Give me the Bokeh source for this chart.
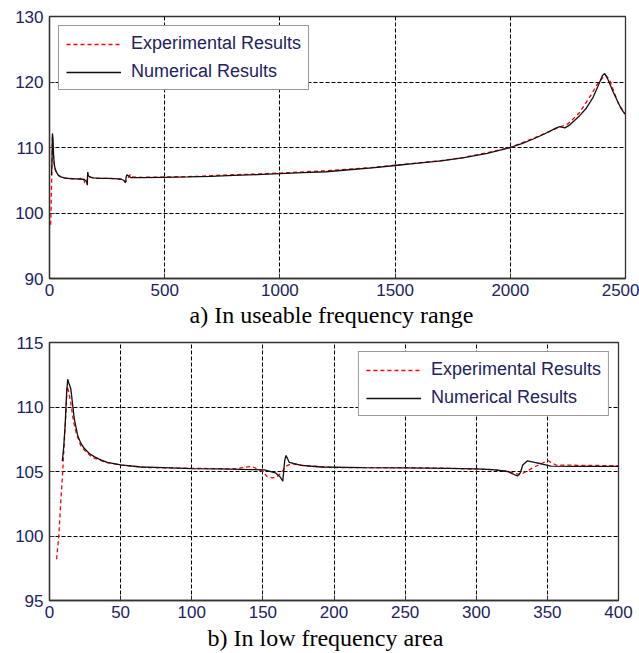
from bokeh.plotting import figure
from bokeh.layouts import column
from bokeh.models import Range1d, FixedTicker, Legend, LegendItem, Title
from bokeh.embed import file_html
from bokeh.resources import INLINE

# ---------------- data ----------------
num_f = [9, 10, 11, 12, 12.8, 13.5, 15, 17.4, 19.8, 22, 24.4, 28, 31.4, 36, 40.7, 50, 64, 80,
         100, 120, 142, 151, 158.8, 162, 164, 165.4, 166.3, 168.6, 177, 191, 220, 250, 280, 300,
         311.5, 322, 329, 331, 332.7, 336, 341, 345.5, 352.6, 370, 400, 500, 600, 700, 800, 900,
         1000, 1100, 1200, 1300, 1400, 1500, 1600, 1700, 1800, 1900, 2000, 2050, 2100, 2150, 2200,
         2215, 2237, 2260, 2302, 2330, 2360, 2380, 2400, 2410, 2425, 2445, 2461, 2480, 2495, 2500]
num_v = [105.8, 106.9, 108.6, 111.0, 112.15, 111.9, 111.4, 109.1, 107.8, 107.2, 106.8, 106.4,
         106.15, 105.9, 105.7, 105.52, 105.35, 105.3, 105.22, 105.2, 105.15, 105.12, 104.9, 104.6,
         104.25, 105.9, 106.24, 105.7, 105.47, 105.35, 105.3, 105.28, 105.25, 105.2, 105.15, 105.0,
         104.65, 104.9, 105.5, 105.83, 105.7, 105.6, 105.42, 105.4, 105.4, 105.45, 105.5, 105.6,
         105.75, 105.85, 106.0, 106.15, 106.3, 106.6, 106.9, 107.25, 107.6, 107.95, 108.45, 109.1,
         110.0, 110.6, 111.3, 112.1, 113.0, 113.2, 113.0, 113.5, 114.9, 116.0, 117.7, 119.3, 121.0,
         121.3, 120.3, 118.6, 117.4, 116.0, 115.2, 115.1]

exp_f = [5, 6.6, 8, 9.3, 10.5, 11.6, 12.3, 13.5, 15.1, 17, 19, 22, 25, 30, 40, 50, 70, 100, 130,
         142, 150, 153, 157, 160, 163, 166, 170, 180, 200, 235, 250, 280, 310, 320, 331, 340, 350.3,
         356, 400, 500, 650, 700, 800, 900, 1000, 1200, 1400, 1500, 1700, 1800, 1900, 2000, 2100,
         2200, 2250, 2300, 2350, 2380, 2400, 2415, 2430, 2450, 2470, 2490, 2500]
exp_v = [98.2, 100.1, 102.8, 105.0, 107.5, 109.6, 111.6, 111.2, 110.2, 108.8, 107.9, 107.0, 106.6,
         106.1, 105.7, 105.5, 105.3, 105.25, 105.2, 105.4, 105.0, 104.6, 104.5, 104.6, 104.9, 105.4,
         105.6, 105.45, 105.3, 105.3, 105.3, 105.25, 105.15, 105.05, 104.75, 105.3, 105.85, 105.5,
         105.45, 105.5, 105.6, 105.7, 105.85, 105.95, 106.1, 106.45, 106.95, 107.3, 108.0, 108.5,
         109.2, 110.0, 111.4, 112.9, 113.6, 115.3, 118.0, 119.8, 120.6, 121.0, 120.4, 118.5, 116.6,
         115.6, 115.2]

top_xticks = [0, 500, 1000, 1500, 2000, 2500]
top_yticks = [90, 100, 110, 120, 130]
bot_xticks = [0, 50, 100, 150, 200, 250, 300, 350, 400]
bot_yticks = [95, 100, 105, 110, 115]

legend_labels = ["Experimental Results", "Numerical Results"]
captions = ["a) In useable frequency range", "b) In low frequency area"]

TICK_COLOR = "#22225e"
FRAME = "#333333"


def make_fig(xr, yr, xt, yt, fw, fh, left, top, right, caption, cap_off, cap_standoff, leg_loc):
    p = figure(frame_width=fw, frame_height=fh, x_range=Range1d(*xr), y_range=Range1d(*yr),
               output_backend="svg", toolbar_location=None, tools="",
               min_border_left=left, min_border_top=top, min_border_right=right,
               min_border_bottom=0)
    p.outline_line_color = FRAME
    p.outline_line_width = 1.3
    p.background_fill_color = "white"
    p.border_fill_color = "white"
    for ax, ticks in ((p.xaxis[0], xt), (p.yaxis[0], yt)):
        ax.ticker = FixedTicker(ticks=ticks)
        ax.major_tick_in = 5
        ax.major_tick_out = 0
        ax.minor_tick_line_color = None
        ax.axis_line_color = FRAME
        ax.axis_line_width = 1.3
        ax.major_tick_line_color = FRAME
        ax.major_label_text_font = "Liberation Sans"
        ax.major_label_text_font_size = "17px"
        ax.major_label_text_color = TICK_COLOR
    p.xaxis.major_label_standoff = 5
    p.yaxis.major_label_standoff = 6
    for g, ticks in ((p.xgrid[0], xt), (p.ygrid[0], yt)):
        g.ticker = FixedTicker(ticks=ticks)
        g.grid_line_color = "black"
        g.grid_line_dash = "4 2"
        g.grid_line_width = 1

    r1 = p.line(exp_f, exp_v, line_color="red", line_width=1.3, line_dash="4 3")
    r2 = p.line(num_f, num_v, line_color="#111111", line_width=1.3)

    leg = Legend(items=[LegendItem(label=legend_labels[0], renderers=[r1]),
                        LegendItem(label=legend_labels[1], renderers=[r2])],
                 location=leg_loc, margin=9, padding=7, spacing=7,
                 label_height=20, glyph_height=20, glyph_width=55, label_standoff=10,
                 label_text_font="Liberation Sans", label_text_font_size="18px",
                 label_text_color=TICK_COLOR,
                 border_line_color=FRAME, border_line_width=1.3,
                 background_fill_color="white", background_fill_alpha=1)
    p.add_layout(leg, "center")

    t = Title(text=caption, text_font="Liberation Serif", text_font_size="24px",
              text_font_style="normal", text_color="black", align="left",
              offset=cap_off, standoff=cap_standoff)
    p.add_layout(t, "below")
    return p


p1 = make_fig((0, 2500), (90, 130), top_xticks, top_yticks, 576, 262, 43, 16, 20,
              captions[0], 140, 3, "top_left")
p2 = make_fig((0, 400), (95, 115), bot_xticks, bot_yticks, 569, 258, 49, 13, 21,
              captions[1], 158, 4, "top_right")

layout = column(p1, p2, spacing=0)
open("out.html", "w").write(file_html(layout, INLINE))
